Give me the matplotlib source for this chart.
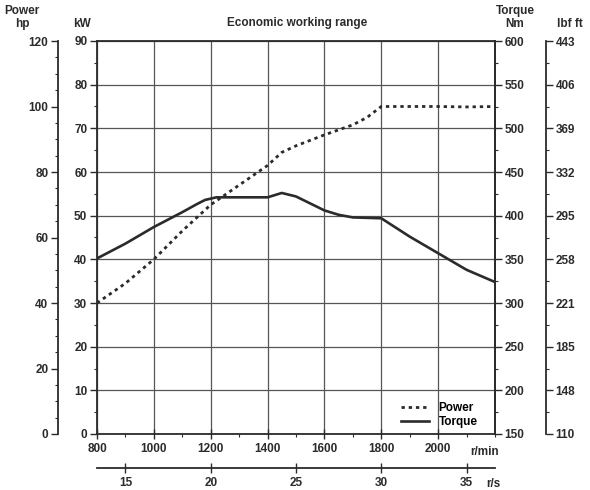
import matplotlib
matplotlib.use("Agg")
import matplotlib.pyplot as plt
from matplotlib.ticker import MultipleLocator
from matplotlib.lines import Line2D

plt.rcParams['font.family'] = ['Liberation Sans', 'DejaVu Sans']
plt.rcParams['font.weight'] = 'bold'
plt.rcParams['font.size'] = 8.5

# Data
rpm_power = [800, 900, 1000, 1100, 1200, 1300, 1400, 1450, 1500, 1600, 1700, 1750, 1800, 1900, 2000, 2100, 2200]
power_kw = [30, 34.5, 40, 46.5, 52.5, 57, 61.5, 64.5, 66, 68.5, 70.8, 72.5, 75, 75, 75, 74.9, 75]

rpm_torque = [800, 900, 1000, 1100, 1150, 1180, 1220, 1400, 1450, 1500, 1600, 1650, 1700, 1800, 1900, 2000, 2100, 2200]
torque_nm = [351, 368, 387, 404, 413, 418, 421, 421, 426, 422, 406, 401, 398, 397, 376, 357, 338, 324]

rpm_ticks = [800, 1000, 1200, 1400, 1600, 1800, 2000]
rps_ticks = [15, 20, 25, 30, 35]
nm_ticks = [150, 200, 250, 300, 350, 400, 450, 500, 550, 600]
lbf_labels = ['110', '148', '185', '221', '258', '295', '332', '369', '406', '443']
hp_ticks = [0, 20, 40, 60, 80, 100, 120]
kw_ticks = [0, 10, 20, 30, 40, 50, 60, 70, 80, 90]

dark = '#2b2b2b'
gridc = '#555555'

W, H = 590, 490
fig = plt.figure(figsize=(5.9, 4.9), dpi=100)
L, R, T, B = 97, 495, 41, 434
ax = fig.add_axes([L / W, 1 - B / H, (R - L) / W, (B - T) / H])
axw = R - L

ax.set_xlim(800, 2200)
ax.set_ylim(0, 90)
ax.set_xticks(rpm_ticks)
ax.xaxis.set_minor_locator(MultipleLocator(100))
ax.set_yticks(kw_ticks)
ax.yaxis.set_minor_locator(MultipleLocator(5))
ax.grid(True, which='major', color=gridc, lw=0.9)
ax.tick_params(axis='x', which='major', direction='inout', length=7, width=1.0, color=dark, labelsize=8.5, pad=3)
ax.tick_params(axis='x', which='minor', direction='out', length=2.5, width=0.8, color=dark)
ax.tick_params(axis='y', which='major', direction='out', length=5, width=1.0, color=dark, labelsize=8.5, pad=2)
ax.tick_params(axis='y', which='minor', direction='out', length=2.5, width=0.8, color=dark)
for s in ax.spines.values():
    s.set_color(dark)
    s.set_linewidth(1.3)

# Torque axis (right)
ax_t = ax.twinx()
ax_t.set_ylim(150, 600)
ax_t.set_yticks(nm_ticks)
ax_t.yaxis.set_minor_locator(MultipleLocator(25))
ax_t.tick_params(axis='y', which='major', direction='out', length=5, width=1.0, color=dark, labelsize=8.5, pad=2)
ax_t.tick_params(axis='y', which='minor', direction='out', length=2.5, width=0.8, color=dark)
for k in ['top', 'bottom', 'left']:
    ax_t.spines[k].set_visible(False)
ax_t.spines['right'].set_color(dark)
ax_t.spines['right'].set_linewidth(1.3)

# hp axis (far left)
ax_hp = ax.twinx()
ax_hp.set_ylim(0, 120)
ax_hp.yaxis.set_ticks_position('left')
ax_hp.yaxis.set_label_position('left')
ax_hp.spines['left'].set_position(('axes', (58 - L) / axw))
ax_hp.spines['left'].set_visible(True)
for k in ['top', 'bottom', 'right']:
    ax_hp.spines[k].set_visible(False)
ax_hp.spines['left'].set_color(dark)
ax_hp.spines['left'].set_linewidth(1.3)
ax_hp.set_yticks(hp_ticks)
ax_hp.yaxis.set_minor_locator(MultipleLocator(5))
ax_hp.tick_params(axis='y', which='major', direction='out', length=5, width=1.0, color=dark, labelsize=8.5, pad=2)
ax_hp.tick_params(axis='y', which='minor', direction='out', length=2.5, width=0.8, color=dark)

# lbf ft axis (far right)
ax_l = ax.twinx()
ax_l.set_ylim(150, 600)
ax_l.spines['right'].set_position(('axes', (546 - L) / axw))
for k in ['top', 'bottom', 'left']:
    ax_l.spines[k].set_visible(False)
ax_l.spines['right'].set_color(dark)
ax_l.spines['right'].set_linewidth(1.3)
ax_l.set_yticks(nm_ticks)
ax_l.set_yticklabels(lbf_labels)
ax_l.yaxis.set_minor_locator(MultipleLocator(25))
ax_l.tick_params(axis='y', which='major', direction='out', length=5, width=1.0, color=dark, labelsize=8.5, pad=2)
ax_l.tick_params(axis='y', which='minor', direction='out', length=2.5, width=0.8, color=dark)

# r/s axis (second bottom)
ax_s = ax.twiny()
ax_s.set_xlim(800 / 60, 2200 / 60)
ax_s.xaxis.set_ticks_position('bottom')
ax_s.xaxis.set_label_position('bottom')
ax_s.spines['bottom'].set_position(('outward', (468 - B) * 0.72))
ax_s.spines['bottom'].set_visible(True)
for k in ['top', 'left', 'right']:
    ax_s.spines[k].set_visible(False)
ax_s.spines['bottom'].set_color(dark)
ax_s.spines['bottom'].set_linewidth(1.3)
ax_s.set_xticks(rps_ticks)
ax_s.tick_params(axis='x', which='major', direction='inout', length=7, width=1.0, color=dark, labelsize=8.5, pad=3)

# Curves
ax_t.plot(rpm_torque, torque_nm, color=dark, lw=1.9, solid_joinstyle='round')
ax.plot(rpm_power, power_kw, color=dark, lw=2.0, linestyle=(0, (1.2, 1.4)), dash_capstyle='butt')

# Legend
hp_line = Line2D([], [], color=dark, lw=2.0, linestyle=(0, (1.2, 1.4)), dash_capstyle='butt')
tq_line = Line2D([], [], color=dark, lw=1.9)
leg = ax.legend([hp_line, tq_line], ['Power', 'Torque'], frameon=False,
                loc='lower right', bbox_to_anchor=(486 / W, 1 - 436 / H),
                bbox_transform=fig.transFigure, handlelength=2.4, handletextpad=0.8,
                labelspacing=0.15, fontsize=8.5, borderpad=0.2)

# Texts
fs = 8.5
fig.text(296.7 / W, 1 - 23 / H, 'Economic working range', ha='center', va='center', fontsize=fs, fontweight='bold', color=dark)
fig.text(22 / W, 1 - 11 / H, 'Power', ha='center', va='center', fontsize=fs, fontweight='bold', color=dark)
fig.text(22 / W, 1 - 24 / H, 'hp', ha='center', va='center', fontsize=fs, fontweight='bold', color=dark)
fig.text(82 / W, 1 - 24 / H, 'kW', ha='center', va='center', fontsize=fs, fontweight='bold', color=dark)
fig.text(515 / W, 1 - 11 / H, 'Torque', ha='center', va='center', fontsize=fs, fontweight='bold', color=dark)
fig.text(515 / W, 1 - 24 / H, 'Nm', ha='center', va='center', fontsize=fs, fontweight='bold', color=dark)
fig.text(570 / W, 1 - 24 / H, 'lbf ft', ha='center', va='center', fontsize=fs, fontweight='bold', color=dark)
fig.text(470 / W, 1 - 452 / H, 'r/min', ha='left', va='center', fontsize=fs, fontweight='bold', color=dark)
fig.text(486 / W, 1 - 484 / H, 'r/s', ha='left', va='center', fontsize=fs, fontweight='bold', color=dark)

for a in [ax, ax_t, ax_hp, ax_l, ax_s]:
    for lab in a.get_xticklabels() + a.get_yticklabels():
        lab.set_fontweight('bold')
        lab.set_color(dark)

fig.savefig('out.png', dpi=100)
